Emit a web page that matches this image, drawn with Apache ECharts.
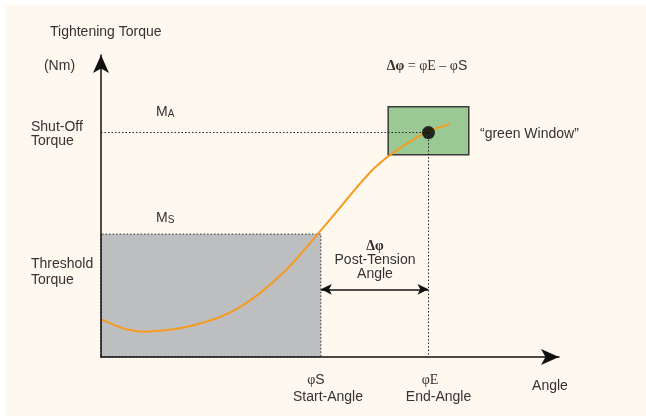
<!DOCTYPE html>
<html><head><meta charset="utf-8">
<script src="https://cdn.jsdelivr.net/npm/echarts@6/dist/echarts.min.js"></script>
<style>html,body{margin:0;padding:0;background:#fff}#c{width:646px;height:416px}</style>
</head><body><div id="c"></div>
<script>
// ---- data ----
const curveAngle  = [0.15, 5, 10, 20, 30, 40, 50, 60, 70, 76.2];
const curveTorque = [12.4, 9.4, 8.4, 10.4, 16.2, 28.2, 45.5, 63.0, 73.6, 77.1];
const startAngle = 48;        // φS
const endAngle = 71.5;        // φE
const thresholdTorque = 40.7; // MS
const shutOffTorque = 74.3;   // MA
const windowAngle = [62.7, 80.3];
const windowTorque = [67.0, 82.9];
const postTensionLevel = 22.4;

const curveData = curveAngle.map((a, i) => [a, curveTorque[i]]);

const SANS = '"Liberation Sans", Arial, Helvetica, sans-serif';
const SERIF = '"Liberation Serif", "Times New Roman", serif';
const TXT = '#333';
const FS = 14;
const chart = echarts.init(document.getElementById('c'));

function txt(x, y, text, align, extra) {
  return {
    type: 'text', x: x, y: y, z: 100,
    style: Object.assign({
      text: text, fill: TXT, font: FS + 'px ' + SANS,
      textAlign: align || 'left', textVerticalAlign: 'middle'
    }, extra || {})
  };
}
const sub = { m: { fontSize: FS, fontFamily: SANS, fill: TXT }, s: { fontSize: 10, fontFamily: SANS, fill: TXT, verticalAlign: 'bottom' } };

// smooth curve through the data points (Catmull-Rom), positioned via the axes
function renderCurve(params, api) {
  if (params.dataIndex !== 0) return null;
  const p = curveData.map(d => api.coord(d));
  let d = 'M' + p[0][0] + ' ' + p[0][1];
  for (let i = 0; i < p.length - 1; i++) {
    const p0 = p[i - 1] || p[i], p1 = p[i], p2 = p[i + 1], p3 = p[i + 2] || p[i + 1];
    const c1x = p1[0] + (p2[0] - p0[0]) / 6, c1y = p1[1] + (p2[1] - p0[1]) / 6;
    const c2x = p2[0] - (p3[0] - p1[0]) / 6, c2y = p2[1] - (p3[1] - p1[1]) / 6;
    d += ' C' + c1x + ' ' + c1y + ' ' + c2x + ' ' + c2y + ' ' + p2[0] + ' ' + p2[1];
  }
  return { type: 'path', shape: { pathData: d }, style: { stroke: '#f59b1f', lineWidth: 2, fill: null } };
}

const option = {
  backgroundColor: '#fef8ee',
  animation: false,
  grid: { left: 101, right: 87, top: 55, bottom: 59, containLabel: false },
  xAxis: {
    type: 'value', min: 0, max: 100, z: 10,
    axisLine: { show: true, onZero: false, symbol: ['none', 'arrow'], symbolSize: [12, 18],
      lineStyle: { color: '#111', width: 1.5 } },
    axisTick: { show: false }, axisLabel: { show: false }, splitLine: { show: false }
  },
  yAxis: {
    type: 'value', min: 0, max: 100, z: 10,
    axisLine: { show: true, onZero: false, symbol: ['none', 'arrow'], symbolSize: [12, 18],
      lineStyle: { color: '#111', width: 1.5 } },
    axisTick: { show: false }, axisLabel: { show: false }, splitLine: { show: false }
  },
  graphic: [
    { type: 'rect', shape: { x: 0, y: 0, width: 646, height: 5 }, style: { fill: '#fff' }, z: -1 },
    { type: 'rect', shape: { x: 0, y: 0, width: 5, height: 416 }, style: { fill: '#fff' }, z: -1 },
    txt(50, 32, 'Tightening Torque'),
    txt(59.5, 66, '(Nm)', 'center'),
    txt(156, 112, '{m|M}{s|A}', 'left', { rich: sub }),
    txt(156, 218, '{m|M}{s|S}', 'left', { rich: sub }),
    txt(31, 134, 'Shut-Off\nTorque', 'left', { lineHeight: 14 }),
    txt(31, 272, 'Threshold\nTorque', 'left', { lineHeight: 16 }),
    txt(427, 66, '{a|Δφ}{b| = φE – φ}{c|S}', 'center', { rich: {
      a: { fontSize: FS, fontFamily: SERIF, fontWeight: 'bold', fill: TXT },
      b: { fontSize: FS, fontFamily: SERIF, fill: TXT },
      c: { fontSize: FS, fontFamily: SANS, fill: TXT } } }),
    txt(480, 134, '\u201Cgreen Window\u201D', 'left'),
    txt(375, 260, '{a|Δφ}\n{b|Post-Tension}\n{b|Angle}', 'center', { rich: {
      a: { fontSize: FS, fontFamily: SERIF, fontWeight: 'bold', fill: TXT, lineHeight: 15 },
      b: { fontSize: FS, fontFamily: SANS, fill: TXT, lineHeight: 14 } } }),
    txt(316, 380, '{a|φ}{b|S}', 'center', { rich: { a: { fontSize: FS, fontFamily: SERIF, fill: TXT }, b: { fontSize: FS, fontFamily: SANS, fill: TXT } } }),
    txt(328, 397, 'Start-Angle', 'center'),
    txt(430, 380, '{a|φE}', 'center', { rich: { a: { fontSize: FS, fontFamily: SERIF, fill: TXT } } }),
    txt(438.5, 397, 'End-Angle', 'center'),
    txt(550, 386, 'Angle', 'center')
  ],
  series: [
    {
      name: 'areas', type: 'line', data: [], silent: true, z: 1,
      markArea: {
        silent: true, z: 1,
        label: { show: false },
        data: [
          [ { coord: [0, 0], itemStyle: { color: '#bdbebf', borderColor: '#333', borderWidth: 1, borderType: [1.5, 2] } },
            { coord: [startAngle, thresholdTorque] } ],
          [ { coord: [windowAngle[0], windowTorque[0]], itemStyle: { color: '#9bc994', borderColor: '#3a3a3a', borderWidth: 1.5, borderType: 'solid' } },
            { coord: [windowAngle[1], windowTorque[1]] } ]
        ]
      }
    },
    {
      name: 'curve', type: 'custom', data: curveData, renderItem: renderCurve, z: 3, silent: true,
      encode: { x: 0, y: 1 }, clip: false
    },
    {
      name: 'lines', type: 'line', data: [], silent: true, z: 4,
      markLine: {
        silent: true, z: 4, symbol: 'none', label: { show: false },
        lineStyle: { color: '#222', width: 1, type: [1.5, 2] },
        emphasis: { disabled: true },
        data: [
          [ { coord: [0, shutOffTorque] }, { coord: [endAngle, shutOffTorque] } ],
          [ { coord: [endAngle, shutOffTorque] }, { coord: [endAngle, 0] } ]
        ]
      }
    },
    {
      name: 'arrow', type: 'line', data: [], silent: true, z: 4,
      markLine: {
        silent: true, z: 4, symbol: ['arrow', 'arrow'], symbolSize: [8, 11], label: { show: false },
        lineStyle: { color: '#111', width: 1.5, type: 'solid' },
        emphasis: { disabled: true },
        data: [
          [ { coord: [startAngle, postTensionLevel] }, { coord: [endAngle, postTensionLevel] } ]
        ]
      }
    },
    {
      name: 'point', type: 'scatter', data: [[endAngle, shutOffTorque]], symbolSize: 13, z: 10,
      itemStyle: { color: '#000' }
    }
  ]
};
chart.setOption(option);
</script>
</body></html>
